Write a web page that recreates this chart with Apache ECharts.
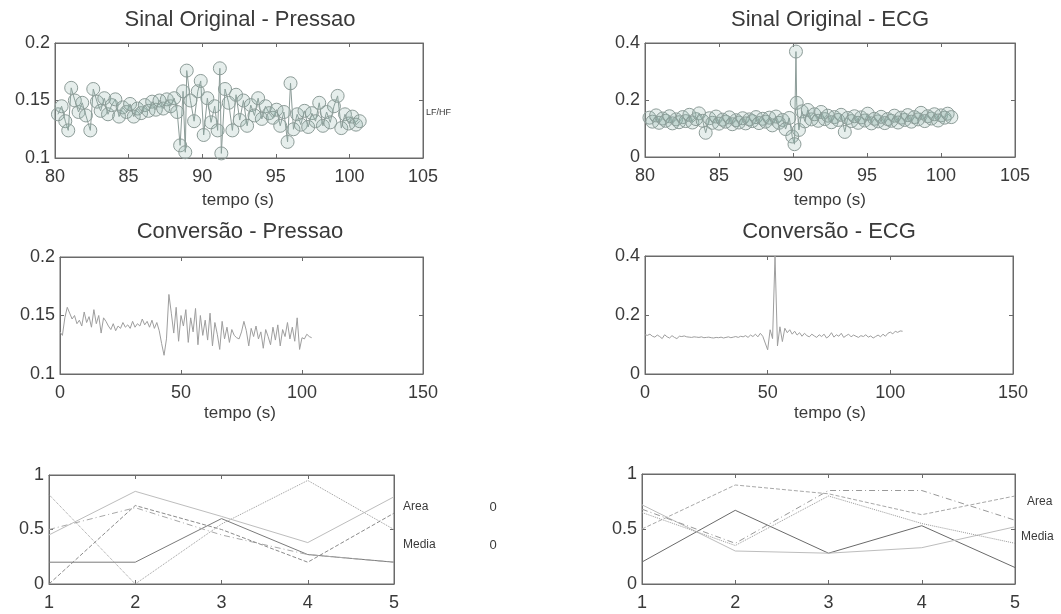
<!doctype html>
<html lang="pt">
<head>
    <meta charset="UTF-8">
    <script src="https://cdn.jsdelivr.net/npm/echarts@6/dist/echarts.min.js"></script>
    <title>Sinal Original / Conversão</title>
    <style>
        html, body { margin: 0; padding: 0; background: #fff; }
    </style>
</head>
<body>
<div id="main" style="width: 1061px;height:614px;"></div>
<script>
    // Sinal original - pressao (tempo em s, valor)
    var tempoPressao = [80.2, 80.45, 80.7, 80.9, 81.1, 81.35, 81.6, 81.85, 82.1, 82.4,
        82.6, 82.85, 83.1, 83.35, 83.6, 83.85, 84.1, 84.35, 84.6, 84.85,
        85.1, 85.35, 85.6, 85.85, 86.1, 86.35, 86.6, 86.85, 87.1, 87.35,
        87.6, 87.85, 88.1, 88.3, 88.5, 88.7, 88.85, 88.95, 89.2, 89.45,
        89.7, 89.9, 90.1, 90.35, 90.6, 90.85, 91.05, 91.2, 91.3, 91.55,
        91.8, 92.05, 92.3, 92.55, 92.8, 93.05, 93.3, 93.55, 93.8, 94.05,
        94.3, 94.55, 94.8, 95.05, 95.3, 95.55, 95.8, 96.0, 96.2, 96.45,
        96.7, 96.95, 97.2, 97.45, 97.7, 97.95, 98.2, 98.45, 98.7, 98.95,
        99.2, 99.45, 99.7, 99.95, 100.2, 100.45, 100.7];
    var valorPressao = [0.138, 0.145, 0.132, 0.124, 0.161, 0.150, 0.140, 0.148, 0.137, 0.124,
        0.160, 0.149, 0.141, 0.152, 0.138, 0.146, 0.151, 0.136, 0.144, 0.140,
        0.147, 0.136, 0.143, 0.139, 0.146, 0.141, 0.149, 0.142, 0.150, 0.143,
        0.151, 0.145, 0.152, 0.140, 0.111, 0.158, 0.105, 0.176, 0.150, 0.132,
        0.158, 0.167, 0.120, 0.152, 0.131, 0.145, 0.124, 0.178, 0.104, 0.160,
        0.148, 0.124, 0.155, 0.133, 0.150, 0.128, 0.146, 0.137, 0.152, 0.134,
        0.145, 0.139, 0.135, 0.142, 0.128, 0.140, 0.114, 0.165, 0.125, 0.138,
        0.129, 0.141, 0.127, 0.139, 0.132, 0.148, 0.128, 0.140, 0.131, 0.145,
        0.154, 0.126, 0.138, 0.130, 0.136, 0.129, 0.132];

    // Sinal original - ECG
    var tempoEcg = [80.3, 80.5, 80.75, 80.95, 81.2, 81.4, 81.65, 81.85, 82.1, 82.3,
        82.55, 82.75, 83.0, 83.2, 83.45, 83.65, 83.9, 84.1, 84.35, 84.55,
        84.8, 85.0, 85.25, 85.45, 85.7, 85.9, 86.15, 86.35, 86.6, 86.8,
        87.05, 87.25, 87.5, 87.7, 87.95, 88.15, 88.4, 88.6, 88.85, 89.05,
        89.3, 89.5, 89.75, 89.95, 90.1, 90.2, 90.25, 90.4, 90.6, 90.8,
        91.0, 91.25, 91.45, 91.7, 91.9, 92.15, 92.35, 92.6, 92.8, 93.05,
        93.25, 93.5, 93.7, 93.95, 94.15, 94.4, 94.6, 94.85, 95.05, 95.3,
        95.5, 95.75, 95.95, 96.2, 96.4, 96.65, 96.85, 97.1, 97.3, 97.55,
        97.75, 98.0, 98.2, 98.45, 98.65, 98.9, 99.1, 99.35, 99.55, 99.8,
        100.0, 100.25, 100.45, 100.7];
    var valorEcg = [0.138, 0.124, 0.146, 0.120, 0.135, 0.127, 0.143, 0.118, 0.132, 0.122,
        0.140, 0.126, 0.148, 0.121, 0.133, 0.153, 0.127, 0.085, 0.136, 0.120,
        0.142, 0.117, 0.131, 0.124, 0.139, 0.115, 0.129, 0.121, 0.136, 0.118,
        0.132, 0.126, 0.140, 0.119, 0.134, 0.124, 0.138, 0.111, 0.142, 0.120,
        0.130, 0.098, 0.137, 0.072, 0.045, 0.370, 0.190, 0.095, 0.160, 0.125,
        0.165, 0.132, 0.150, 0.127, 0.158, 0.133, 0.145, 0.122, 0.140, 0.130,
        0.148, 0.088, 0.137, 0.126, 0.143, 0.120, 0.139, 0.128, 0.152, 0.118,
        0.134, 0.125, 0.141, 0.119, 0.133, 0.127, 0.145, 0.121, 0.138, 0.130,
        0.147, 0.124, 0.140, 0.132, 0.155, 0.126, 0.143, 0.135, 0.150, 0.128,
        0.146, 0.138, 0.152, 0.140];

    // Conversão - pressao
    var tempoConvP = [0, 1, 2, 3, 4, 5, 6, 7, 8, 9, 10, 11, 12, 13, 14, 15, 16, 17, 18, 19,
        20, 21, 22, 23, 24, 25, 26, 27, 28, 29, 30, 31, 32, 33, 34, 35, 36, 37, 38, 39,
        40, 41, 42, 43, 44, 45, 46, 47, 48, 49, 50, 51, 52, 53, 54, 55, 56, 57, 58, 59,
        60, 61, 62, 63, 64, 65, 66, 67, 68, 69, 70, 71, 72, 73, 74, 75, 76, 77, 78, 79,
        80, 81, 82, 83, 84, 85, 86, 87, 88, 89, 90, 91, 92, 93, 94, 95, 96, 97, 98, 99,
        100, 101, 102, 103, 104];
    var valorConvP = [0.136, 0.133, 0.148, 0.157, 0.152, 0.147, 0.150, 0.143, 0.146, 0.141,
        0.153, 0.144, 0.149, 0.140, 0.155, 0.143, 0.150, 0.135, 0.148, 0.145,
        0.141, 0.138, 0.143, 0.137, 0.141, 0.139, 0.144, 0.140, 0.142, 0.139,
        0.145, 0.140, 0.143, 0.141, 0.147, 0.142, 0.145, 0.140, 0.146, 0.139,
        0.144, 0.137, 0.126, 0.116, 0.130, 0.168, 0.152, 0.135, 0.157, 0.128,
        0.150, 0.141, 0.155, 0.127, 0.148, 0.136, 0.156, 0.125, 0.150, 0.133,
        0.146, 0.129, 0.152, 0.124, 0.144, 0.134, 0.121, 0.145, 0.130, 0.140,
        0.127, 0.138, 0.133, 0.131, 0.130, 0.136, 0.145, 0.137, 0.124, 0.139,
        0.132, 0.141, 0.130, 0.136, 0.122, 0.138, 0.132, 0.125, 0.140, 0.129,
        0.142, 0.124, 0.138, 0.132, 0.144, 0.130, 0.140, 0.128, 0.148, 0.121,
        0.131, 0.130, 0.134, 0.132, 0.131];

    // Conversão - ECG
    var tempoConvE = [0, 1, 2, 3, 4, 5, 6, 7, 8, 9, 10, 11, 12, 13, 14, 15, 16, 17, 18, 19,
        20, 21, 22, 23, 24, 25, 26, 27, 28, 29, 30, 31, 32, 33, 34, 35, 36, 37, 38, 39,
        40, 41, 42, 43, 44, 45, 46, 47, 48, 49, 50, 51, 52, 53, 54, 55, 56, 57, 58, 59,
        60, 61, 62, 63, 64, 65, 66, 67, 68, 69, 70, 71, 72, 73, 74, 75, 76, 77, 78, 79,
        80, 81, 82, 83, 84, 85, 86, 87, 88, 89, 90, 91, 92, 93, 94, 95, 96, 97, 98, 99,
        100, 101, 102, 103, 104, 105];
    var valorConvE = [0.133, 0.131, 0.135, 0.128, 0.125, 0.132, 0.127, 0.120, 0.133, 0.126,
        0.122, 0.130, 0.124, 0.120, 0.128, 0.127, 0.129, 0.126, 0.125, 0.124,
        0.126, 0.125, 0.124, 0.126, 0.123, 0.124, 0.125, 0.123, 0.122, 0.124,
        0.123, 0.125, 0.122, 0.124, 0.126, 0.123, 0.125, 0.127, 0.124, 0.128,
        0.126, 0.130, 0.124, 0.132, 0.127, 0.135, 0.126, 0.138, 0.128, 0.105,
        0.082, 0.150, 0.120, 0.400, 0.095, 0.160, 0.110, 0.155, 0.140, 0.150,
        0.135, 0.145, 0.132, 0.140, 0.128, 0.138, 0.130, 0.126, 0.135, 0.129,
        0.124, 0.133, 0.127, 0.135, 0.122, 0.128, 0.140, 0.125, 0.133, 0.128,
        0.138, 0.124, 0.130, 0.135, 0.126, 0.132, 0.128, 0.124, 0.130, 0.127,
        0.133, 0.125, 0.129, 0.122, 0.127, 0.132, 0.126, 0.135, 0.128, 0.138,
        0.142, 0.136, 0.145, 0.141, 0.146, 0.145];

    // graficos de baixo (x = 1..5)
    var eixoBaixo = [1, 2, 3, 4, 5];
    var baixoEsq = [
        [0.20, 0.20, 0.60, 0.27, 0.20],
        [0.50, 0.70, 0.45, 0.27, 0.20],
        [0.82, 0.00, 0.55, 0.95, 0.50],
        [0.45, 0.85, 0.62, 0.38, 0.80],
        [0.00, 0.72, 0.50, 0.20, 0.65]
    ];
    var baixoDir = [
        [0.20, 0.67, 0.28, 0.53, 0.15],
        [0.72, 0.30, 0.28, 0.33, 0.52],
        [0.68, 0.37, 0.85, 0.85, 0.58],
        [0.50, 0.90, 0.82, 0.63, 0.80],
        [0.65, 0.35, 0.80, 0.55, 0.37]
    ];

    var fonte = 'Liberation Sans, Arial, sans-serif';
    var corTexto = '#3a3a3a';
    var corEixo = '#6a6a6a';

    function juntar(xs, ys) {
        var out = [];
        for (var i = 0; i < xs.length; i++) {
            out.push([xs[i], ys[i]]);
        }
        return out;
    }

    // eixo principal (com rotulos) ou espelho (so ticks, em cima/direita)
    function eixo(idx, min, max, interval, isX, espelho) {
        return {
            type: 'value',
            gridIndex: idx,
            position: espelho ? (isX ? 'top' : 'right') : (isX ? 'bottom' : 'left'),
            min: min,
            max: max,
            interval: interval,
            axisLine: {show: true, onZero: false, lineStyle: {color: corEixo, width: 1}},
            axisTick: {show: true, inside: true, length: 4, lineStyle: {color: corEixo}},
            splitLine: {show: false},
            axisLabel: {
                show: !espelho,
                color: corTexto,
                fontSize: 18,
                fontFamily: fonte,
                margin: isX ? 10 : 5
            }
        };
    }

    var grids = [
        {left: 55, top: 43, width: 368, height: 115},
        {left: 645, top: 43, width: 370, height: 114},
        {left: 60, top: 257, width: 363, height: 117},
        {left: 645, top: 256, width: 368, height: 118},
        {left: 49, top: 475, width: 345, height: 109},
        {left: 642, top: 474, width: 373, height: 110}
    ];
    var limitesX = [[80, 105, 5], [80, 105, 5], [0, 150, 50], [0, 150, 50], [1, 5, 1], [1, 5, 1]];
    var limitesY = [[0.1, 0.2, 0.05], [0, 0.4, 0.2], [0.1, 0.2, 0.05], [0, 0.4, 0.2], [0, 1, 0.5], [0, 1, 0.5]];

    var xAxes = [];
    var yAxes = [];
    for (var g = 0; g < grids.length; g++) {
        grids[g].show = true;
        grids[g].borderColor = corEixo;
        grids[g].borderWidth = 1;
        grids[g].backgroundColor = 'transparent';
        xAxes.push(eixo(g, limitesX[g][0], limitesX[g][1], limitesX[g][2], true, false));
        yAxes.push(eixo(g, limitesY[g][0], limitesY[g][1], limitesY[g][2], false, false));
    }
    for (var h = 0; h < grids.length; h++) {
        xAxes.push(eixo(h, limitesX[h][0], limitesX[h][1], limitesX[h][2], true, true));
        yAxes.push(eixo(h, limitesY[h][0], limitesY[h][1], limitesY[h][2], false, true));
    }

    // marcadores 'o' com linha, estilo matlab
    function serieCirculos(idx, xs, ys) {
        return {
            type: 'line',
            xAxisIndex: idx,
            yAxisIndex: idx,
            data: juntar(xs, ys),
            symbol: 'circle',
            symbolSize: 13,
            showSymbol: true,
            lineStyle: {color: '#8c9c98', width: 1},
            itemStyle: {color: 'rgba(140,178,168,0.22)', borderColor: '#8d9c98', borderWidth: 1},
            animation: false
        };
    }

    function serieLinha(idx, xs, ys, cor, tipo) {
        return {
            type: 'line',
            xAxisIndex: idx,
            yAxisIndex: idx,
            data: juntar(xs, ys),
            symbol: 'none',
            lineStyle: {color: cor, width: 1, type: tipo},
            animation: false
        };
    }

    var series = [
        serieCirculos(0, tempoPressao, valorPressao),
        serieCirculos(1, tempoEcg, valorEcg),
        serieLinha(2, tempoConvP, valorConvP, '#9e9e9e', 'solid'),
        serieLinha(3, tempoConvE, valorConvE, '#9e9e9e', 'solid')
    ];
    var coresEsq = ['#7a7a7a', '#a8a8a8', '#9a9a9a', '#bdbdbd', '#8a8a8a'];
    var tiposEsq = ['solid', [6, 3, 1, 3], 'dotted', 'solid', 'dashed'];
    for (var i = 0; i < baixoEsq.length; i++) {
        series.push(serieLinha(4, eixoBaixo, baixoEsq[i], coresEsq[i], tiposEsq[i]));
    }
    var coresDir = ['#6a6a6a', '#bdbdbd', '#999999', '#a8a8a8', '#9a9a9a'];
    var tiposDir = ['solid', 'solid', [6, 3, 1, 3], 'dashed', 'dotted'];
    for (var j = 0; j < baixoDir.length; j++) {
        series.push(serieLinha(5, eixoBaixo, baixoDir[j], coresDir[j], tiposDir[j]));
    }

    function texto(x, y, s, size, align) {
        return {
            type: 'text',
            x: x,
            y: y,
            style: {
                text: s,
                fill: corTexto,
                fontSize: size,
                fontFamily: fonte,
                align: align || 'center',
                verticalAlign: 'middle'
            }
        };
    }

    var option = {
        backgroundColor: '#fff',
        animation: false,
        grid: grids,
        xAxis: xAxes,
        yAxis: yAxes,
        series: series,
        graphic: [
            texto(240, 20, 'Sinal Original - Pressao', 22),
            texto(830, 20, 'Sinal Original - ECG', 22),
            texto(240, 232, 'Conversão - Pressao', 22),
            texto(829, 232, 'Conversão - ECG', 22),
            texto(238, 200, 'tempo (s)', 17),
            texto(830, 200, 'tempo (s)', 17),
            texto(240, 413, 'tempo (s)', 17),
            texto(830, 413, 'tempo (s)', 17),
            texto(426, 113, 'LF/HF', 9, 'left'),
            texto(403, 507, 'Area', 12, 'left'),
            texto(493, 507, '0', 13, 'center'),
            texto(403, 545, 'Media', 12, 'left'),
            texto(493, 545, '0', 13, 'center'),
            texto(1027, 502, 'Area', 12, 'left'),
            texto(1021, 537, 'Media', 12, 'left')
        ]
    };

    var myChart = echarts.init(document.getElementById('main'));
    myChart.setOption(option);
</script>
</body>
</html>
